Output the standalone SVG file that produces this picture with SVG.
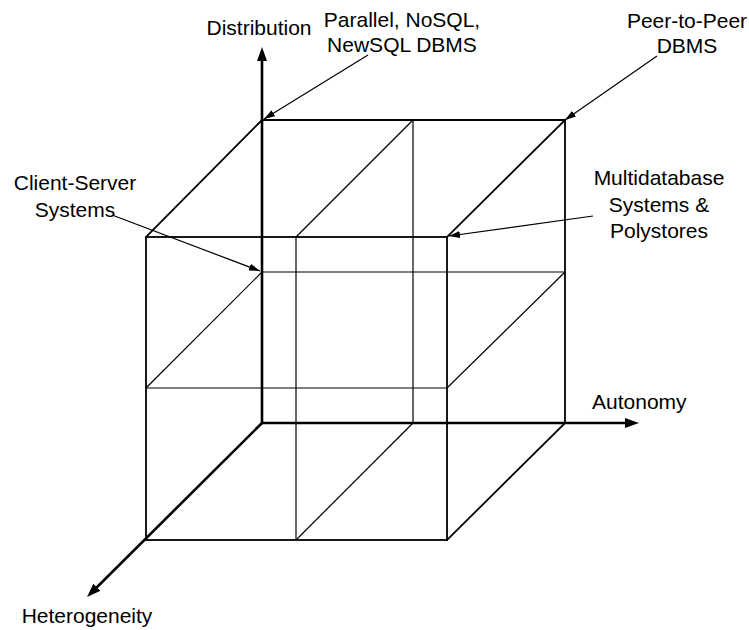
<svg xmlns="http://www.w3.org/2000/svg" width="749" height="630" viewBox="0 0 749 630">
<style>
.edge{stroke:#000;stroke-width:1.8;fill:none;stroke-linecap:square}
.inner{stroke:#000;stroke-width:1.2;fill:none}
.axis{stroke:#000;stroke-width:2.6;fill:none}
.lead{stroke:#000;stroke-width:1.2;fill:none}
text{font-family:"Liberation Sans",Arial,sans-serif;font-size:21px;fill:#000}
.c{text-anchor:middle}
</style>
<defs>
<marker id="axhead" viewBox="0 0 14 10" refX="4" refY="5" markerWidth="14" markerHeight="10" markerUnits="userSpaceOnUse" orient="auto">
<path d="M0,0 L14,5 L0,10 z" fill="#000"/>
</marker>
<marker id="ldhead" viewBox="0 0 11 7" refX="11" refY="3.5" markerWidth="11" markerHeight="7" markerUnits="userSpaceOnUse" orient="auto">
<path d="M0,0 L11,3.5 L0,7 z" fill="#000"/>
</marker>
</defs>
<rect width="749" height="630" fill="#fff"/>
<g id="cube">
<line class="edge" x1="262" y1="120" x2="565" y2="120"/>
<line class="edge" x1="565" y1="120" x2="565" y2="423"/>
<line class="inner" x1="413" y1="120" x2="413" y2="423"/>
<line class="inner" x1="262" y1="272" x2="565" y2="272"/>
<rect class="edge" x="146" y="237" width="301" height="303"/>
<line class="inner" x1="296" y1="237" x2="296" y2="540"/>
<line class="inner" x1="146" y1="388" x2="447" y2="388"/>
<line class="edge" x1="262" y1="120" x2="146" y2="237"/>
<line class="edge" x1="565" y1="120" x2="447" y2="237"/>
<line class="edge" x1="565" y1="423" x2="447" y2="540"/>
<line class="inner" x1="413" y1="120" x2="296" y2="237"/>
<line class="inner" x1="413" y1="423" x2="296" y2="540"/>
<line class="inner" x1="262" y1="272" x2="146" y2="388"/>
<line class="inner" x1="565" y1="272" x2="447" y2="388"/>
</g>
<g id="axes">
<line class="axis" x1="262" y1="423" x2="262" y2="57" marker-end="url(#axhead)"/>
<line class="axis" x1="262" y1="423" x2="629" y2="423" marker-end="url(#axhead)"/>
<line class="axis" x1="262" y1="423" x2="94.1" y2="590" marker-end="url(#axhead)"/>
</g>
<g id="connectors">
<line class="lead" x1="368" y1="55" x2="264" y2="119" marker-end="url(#ldhead)"/>
<line class="lead" x1="657" y1="56" x2="565" y2="120" marker-end="url(#ldhead)"/>
<line class="lead" x1="112" y1="215" x2="260" y2="271" marker-end="url(#ldhead)"/>
<line class="lead" x1="593" y1="216" x2="449" y2="236" marker-end="url(#ldhead)"/>
</g>
<g id="label-distribution"><text class="c" x="259" y="35">Distribution</text></g>
<g id="label-autonomy"><text x="592" y="409">Autonomy</text></g>
<g id="label-heterogeneity"><text class="c" x="87" y="623">Heterogeneity</text></g>
<g id="label-parallel"><text class="c" x="402" y="27">Parallel, NoSQL,</text><text class="c" x="402" y="52">NewSQL DBMS</text></g>
<g id="label-p2p"><text class="c" x="687" y="28">Peer-to-Peer</text><text class="c" x="687" y="53">DBMS</text></g>
<g id="label-clientserver"><text class="c" x="75" y="190">Client-Server</text><text class="c" x="75" y="217">Systems</text></g>
<g id="label-multidb"><text class="c" x="659" y="185">Multidatabase</text><text class="c" x="659" y="211.5">Systems &amp;</text><text class="c" x="659" y="238">Polystores</text></g>
</svg>
